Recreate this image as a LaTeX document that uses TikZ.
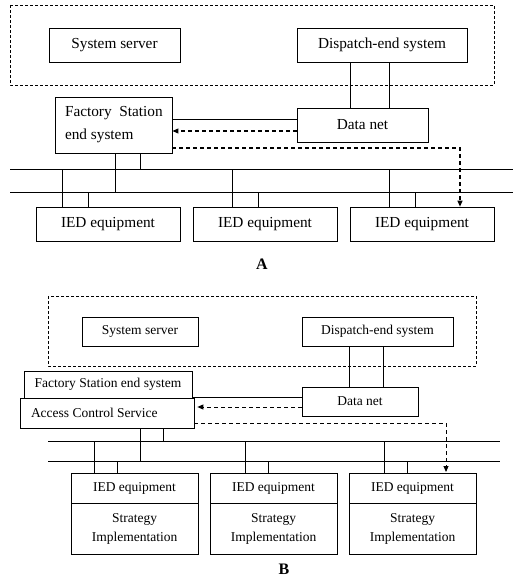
\documentclass[tikz,border=0pt]{standalone}
\usepackage{fontspec}
\setmainfont{Liberation Serif}
\usetikzlibrary{arrows.meta}
\begin{document}
\begin{tikzpicture}[x=1pt,y=-1pt,
  box/.style={draw, line width=0.7pt, inner sep=0pt, align=center, fill=white},
  fa/.style={font=\fontsize{15.3}{23}\selectfont},
  fb/.style={font=\fontsize{13.5}{19}\selectfont},
  grp/.style={line width=0.6pt, dash pattern=on 3pt off 2pt},
  link/.style={line width=0.7pt},
  dlink/.style={line width=1.1pt, dash pattern=on 4pt off 3pt, -{Triangle[length=6pt,width=5pt]}},
  dlinkb/.style={line width=0.9pt, dash pattern=on 4pt off 3pt, -{Triangle[length=6pt,width=5pt]}},
  lbl/.style={font=\fontsize{16}{16}\selectfont\bfseries}
]
\useasboundingbox (0,0) rectangle (513,578);
% ---------------- Part A ----------------
\draw[grp] (10,5) rectangle (494,85);
\node[box,fa,minimum width=131pt,minimum height=34pt] (ssA) at (114.5,45) {System server};
\node[box,fa,minimum width=170pt,minimum height=34pt] (dsA) at (382,45) {Dispatch-end system};
\node[box,fa,minimum width=131pt,minimum height=34pt] (dnA) at (362.5,125) {Data net};
\node[box,fa,minimum width=117pt,minimum height=56pt,align=flush left,text width=103pt,inner xsep=7pt,line width=0.9pt] (fsA) at (113.5,125) {\hspace*{3pt}Factory\ \ Station\\\hspace*{3pt}end system};
\node[box,fa,minimum width=144pt,minimum height=34pt] (iedA1) at (108,224) {IED equipment};
\node[box,fa,minimum width=144pt,minimum height=34pt] (iedA2) at (265,224) {IED equipment};
\node[box,fa,minimum width=144pt,minimum height=34pt] (iedA3) at (422,224) {IED equipment};
\coordinate (a1l) at (10,169); \coordinate (a1r) at (513,169);
\coordinate (a2l) at (10,192); \coordinate (a2r) at (513,192);
\draw[link] (a1l) -- (a1r);
\draw[link] (a2l) -- (a2r);
\draw[link] (dsA.south -| 350,0) -- (dnA.north -| 350,0);
\draw[link] (dsA.south -| 389,0) -- (dnA.north -| 389,0);
\draw[link] (fsA.east |- 0,119) -- (dnA.west |- 0,119);
\draw[dlink] (dnA.west |- 0,131) -- (fsA.east |- 0,131);
\draw[dlink] (fsA.east |- 0,148) -| (iedA3.north -| 460,0);
\draw[link] (fsA.south -| 115,0) -- (a2l -| 115,0);
\draw[link] (fsA.south -| 140,0) -- (a1l -| 140,0);
\draw[link] (iedA1.north -| 62,0) -- (a1l -| 62,0);
\draw[link] (iedA1.north -| 88,0) -- (a2l -| 88,0);
\draw[link] (iedA2.north -| 232,0) -- (a1l -| 232,0);
\draw[link] (iedA2.north -| 258,0) -- (a2l -| 258,0);
\draw[link] (iedA3.north -| 389,0) -- (a1l -| 389,0);
\draw[link] (iedA3.north -| 415,0) -- (a2l -| 415,0);
\node[lbl] (labA) at (262,264) {A};
% ---------------- Part B ----------------
\draw[grp] (48,296) rectangle (476,366);
\node[box,fb,minimum width=116pt,minimum height=29pt] (ssB) at (140,331.5) {System server};
\node[box,fb,minimum width=151pt,minimum height=29pt] (dsB) at (377.5,331.5) {Dispatch-end system};
\node[box,fb,minimum width=116pt,minimum height=29pt] (dnB) at (360,401.5) {Data net};
\node[box,fb,minimum width=168pt,minimum height=27pt] (fsB) at (108,384.5) {Factory Station end system};
\node[box,fb,minimum width=174pt,minimum height=30pt,align=flush left,text width=152pt,inner xsep=11pt] (acB) at (107,413) {Access Control Service};
\coordinate (b1l) at (48,441); \coordinate (b1r) at (500,441);
\coordinate (b2l) at (48,461); \coordinate (b2r) at (500,461);
\draw[link] (b1l) -- (b1r);
\draw[link] (b2l) -- (b2r);
\draw[link] (dsB.south -| 349,0) -- (dnB.north -| 349,0);
\draw[link] (dsB.south -| 383,0) -- (dnB.north -| 383,0);
\draw[link] (fsB.east |- 0,397) -- (dnB.west |- 0,397);
\draw[dlinkb,shorten >=3pt] (dnB.west |- 0,407) -- (acB.east |- 0,407);
\draw[dlinkb] (acB.east |- 0,423) -| (446,472);
\foreach \i/\cx in {1/134.5,2/273.5,3/412.5}{
  \node[box,fb,minimum width=127pt,minimum height=30pt] (iedB\i) at (\cx,488) {IED equipment};
  \node[box,fb,minimum width=127pt,minimum height=51pt] (stB\i) at (\cx,528.5) {Strategy\\Implementation};
}
\draw[link] (acB.south -| 140,0) -- (b2l -| 140,0);
\draw[link] (acB.south -| 163,0) -- (b1l -| 163,0);
\draw[link] (iedB1.north -| 94,0) -- (b1l -| 94,0);
\draw[link] (iedB1.north -| 117,0) -- (b2l -| 117,0);
\draw[link] (iedB2.north -| 245,0) -- (b1l -| 245,0);
\draw[link] (iedB2.north -| 268,0) -- (b2l -| 268,0);
\draw[link] (iedB3.north -| 384,0) -- (b1l -| 384,0);
\draw[link] (iedB3.north -| 407,0) -- (b2l -| 407,0);
\node[lbl] (labB) at (284,569) {B};
\end{tikzpicture}
\end{document}
